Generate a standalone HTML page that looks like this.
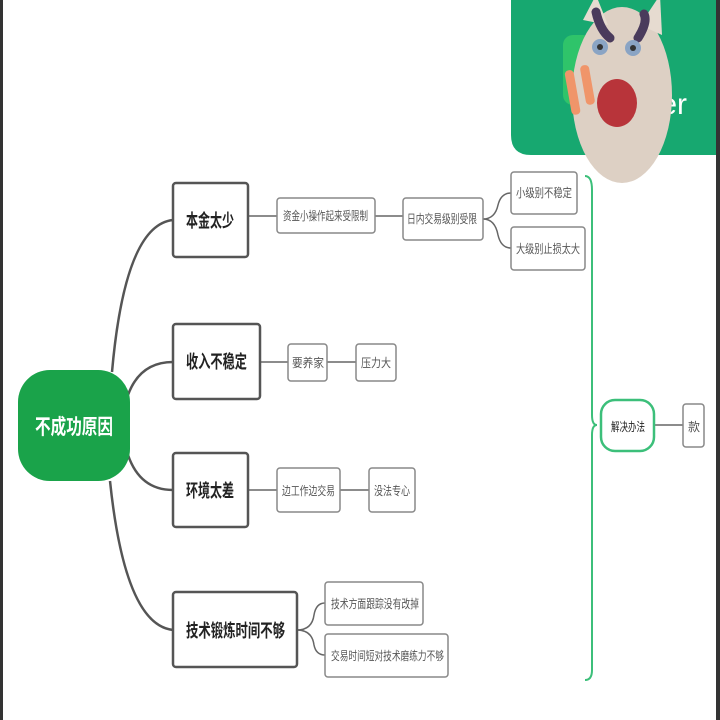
<!DOCTYPE html>
<html><head><meta charset="utf-8"><style>
html,body{margin:0;padding:0;background:#fff;}
svg{display:block;}
text{font-family:"Liberation Sans","Noto Sans CJK SC",sans-serif;}
</style></head><body>
<svg width="720" height="720" viewBox="0 0 720 720">
<rect width="720" height="720" fill="#fff"/>
<rect x="0" y="0" width="3" height="720" fill="#333"/>
<rect x="716" y="0" width="4" height="720" fill="#333"/>
<!-- header -->
<path d="M511 0 H716 V155 H531 Q511 155 511 135 Z" fill="#17a870"/>
<rect x="563" y="35" width="30" height="70" rx="10" fill="#2fc46a"/>
<text x="652" y="114" font-size="30" fill="#fff">ter</text>
<!-- cat -->
<ellipse cx="622" cy="95" rx="50" ry="88" fill="#ddd0c4"/>
<path d="M583 20 L596 -5 L608 25 Z" fill="#e6dbd0"/>
<path d="M640 25 L660 -5 L662 35 Z" fill="#e6dbd0"/>
<path d="M596 12 Q600 30 610 38" stroke="#4a3b5c" stroke-width="9" stroke-linecap="round" fill="none"/>
<path d="M638 38 Q648 22 644 14" stroke="#4a3b5c" stroke-width="9" stroke-linecap="round" fill="none"/>
<circle cx="600" cy="47" r="8" fill="#8aa4c4"/><circle cx="600" cy="47" r="3" fill="#333"/>
<circle cx="633" cy="48" r="8" fill="#8aa4c4"/><circle cx="633" cy="48" r="3" fill="#333"/>
<ellipse cx="617" cy="103" rx="20" ry="24" fill="#b8343a"/>
<rect x="568" y="70" width="9" height="45" rx="4" fill="#f0956a" transform="rotate(-10 572 92)"/>
<rect x="583" y="65" width="9" height="40" rx="4" fill="#f0956a" transform="rotate(-10 587 85)"/>
<!-- bracket -->
<path d="M585 176 Q592 176 592 190 V415 Q592 425 597 425 Q592 425 592 435 V670 Q592 680 585 680" fill="none" stroke="#3cbf7a" stroke-width="2"/>
<!-- connectors -->
<g fill="none" stroke="#555" stroke-width="2.5">
<path d="M112 372 Q125 225 173 220"/>
<path d="M128 395 Q140 362 173 362"/>
<path d="M128 455 Q140 490 173 490"/>
<path d="M110 481 Q125 625 173 630"/>
</g>
<g fill="none" stroke="#666" stroke-width="1.5">
<path d="M248 216 H277"/><path d="M375 216 H403"/>
<path d="M483 219 Q495 219 498 205 Q501 193 511 193"/>
<path d="M483 219 Q495 219 498 235 Q501 248 511 248"/>
<path d="M260 362 H288"/><path d="M327 362 H356"/>
<path d="M248 490 H277"/><path d="M340 490 H369"/>
<path d="M297 630 Q312 630 314 615 Q316 603 325 603"/>
<path d="M297 630 Q312 630 314 645 Q316 655 325 655"/>
<path d="M654 425 H683"/>
</g>
<!-- root -->
<rect x="18" y="370" width="112" height="111" rx="32" fill="#1aa34a"/>
<text x="35" y="434" font-size="21" font-weight="bold" fill="#fff" textLength="78" lengthAdjust="spacingAndGlyphs">不成功原因</text>
<!-- main topics -->
<g fill="#fff" stroke="#555" stroke-width="2.5">
<rect x="173" y="183" width="75" height="74" rx="3"/>
<rect x="173" y="324" width="87" height="75" rx="3"/>
<rect x="173" y="453" width="75" height="74" rx="3"/>
<rect x="173" y="592" width="124" height="75" rx="3"/>
</g>
<g font-size="18" font-weight="bold" fill="#222" lengthAdjust="spacingAndGlyphs">
<text x="186" y="227" textLength="48" lengthAdjust="spacingAndGlyphs">本金太少</text>
<text x="186" y="368" textLength="61" lengthAdjust="spacingAndGlyphs">收入不稳定</text>
<text x="186" y="497" textLength="48" lengthAdjust="spacingAndGlyphs">环境太差</text>
<text x="186" y="637" textLength="99" lengthAdjust="spacingAndGlyphs">技术锻炼时间不够</text>
</g>
<!-- subtopics -->
<g fill="#fff" stroke="#888" stroke-width="1.5">
<rect x="277" y="198" width="98" height="35" rx="3"/>
<rect x="403" y="198" width="80" height="42" rx="3"/>
<rect x="511" y="172" width="66" height="42" rx="3"/>
<rect x="511" y="227" width="74" height="43" rx="3"/>
<rect x="288" y="344" width="39" height="37" rx="3"/>
<rect x="356" y="344" width="40" height="37" rx="3"/>
<rect x="277" y="468" width="63" height="44" rx="3"/>
<rect x="369" y="468" width="46" height="44" rx="3"/>
<rect x="325" y="582" width="98" height="43" rx="3"/>
<rect x="325" y="634" width="123" height="43" rx="3"/>
<rect x="683" y="404" width="21" height="43" rx="3"/>
</g>
<rect x="601" y="400" width="53" height="51" rx="14" fill="#fff" stroke="#3cbf7a" stroke-width="2.5"/>
<g font-size="12" fill="#555">
<text x="283" y="220" textLength="85" lengthAdjust="spacingAndGlyphs">资金小操作起来受限制</text>
<text x="407" y="223" textLength="70" lengthAdjust="spacingAndGlyphs">日内交易级别受限</text>
<text x="516" y="197" textLength="56" lengthAdjust="spacingAndGlyphs">小级别不稳定</text>
<text x="516" y="253" textLength="64" lengthAdjust="spacingAndGlyphs">大级别止损太大</text>
<text x="292" y="367" textLength="32" lengthAdjust="spacingAndGlyphs">要养家</text>
<text x="361" y="367" textLength="30" lengthAdjust="spacingAndGlyphs">压力大</text>
<text x="282" y="495" textLength="53" lengthAdjust="spacingAndGlyphs">边工作边交易</text>
<text x="374" y="495" textLength="36" lengthAdjust="spacingAndGlyphs">没法专心</text>
<text x="331" y="608" textLength="88" lengthAdjust="spacingAndGlyphs">技术方面跟踪没有改掉</text>
<text x="331" y="660" textLength="113" lengthAdjust="spacingAndGlyphs">交易时间短对技术磨练力不够</text>
<text x="688" y="431">款</text>
<text x="611" y="431" fill="#222" textLength="34" lengthAdjust="spacingAndGlyphs">解决办法</text>
</g>
</svg>
</body></html>
